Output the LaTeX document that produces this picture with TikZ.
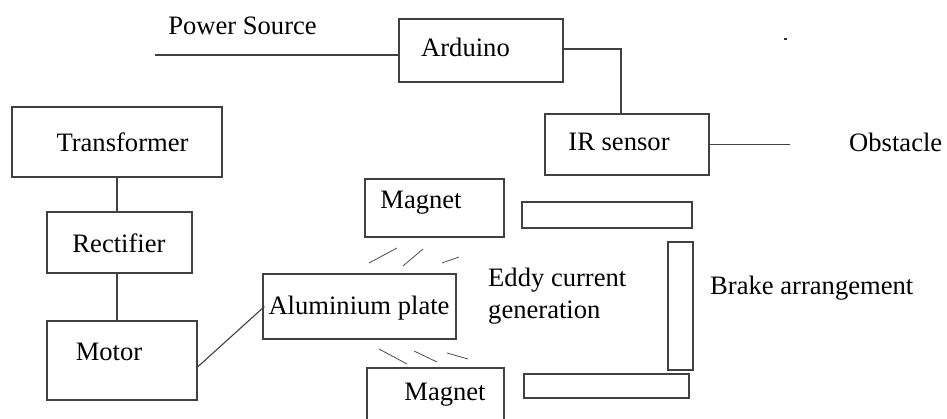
\documentclass[tikz,border=0pt]{standalone}
\usepackage{fontspec}
\setmainfont{Liberation Serif}
\usetikzlibrary{positioning,calc}
\tikzset{blk/.style={rectangle, draw=black!75, line width=1.1pt, inner sep=0pt},
	lbl/.style={inner sep=0pt, font=\fontsize{26.6}{32}\selectfont, align=left},
	wire/.style={draw=black!75, line width=1.1pt},
	flux/.style={draw=black!70, line width=0.8pt}}
\begin{document}
\begin{tikzpicture}[x=1pt,y=-1pt]
	\clip (0,0) rectangle (947,419);
	\useasboundingbox (0,0) rectangle (947,419);
	% control side
	\node[blk, minimum width=164, minimum height=63] (ard) at (481,50.5) {};
	\node[lbl] (ardtxt) at (465.5,47) {Arduino};
	\node[blk, minimum width=164, minimum height=61] (ir) at (627,144.5) {};
	\node[lbl] (irtxt) at (619,142) {IR sensor};
	\node[lbl] (ps) at (242.5,26) {Power Source};
	\node[lbl, anchor=west] (obs) at (849,142) {Obstacle};
	\coordinate (psend) at (155,55);
	\coordinate (obsend) at (790,144.5);
	\draw[wire] (psend) -- ([yshift=-4.5pt]ard.west);
	\draw[wire] ([yshift=1.5pt]ard.east) -| ([xshift=-6pt]ir.north);
	\draw[wire] (ir.east) -- (obsend);
	% drive side
	\node[blk, minimum width=210, minimum height=70] (trf) at (117,142) {};
	\node[lbl] (trftxt) at (122.5,142) {Transformer};
	\node[blk, minimum width=145, minimum height=61] (rect) at (119.5,242.5) {};
	\node[lbl] (recttxt) at (119,243) {Rectifier};
	\node[blk, minimum width=150, minimum height=79] (mot) at (122,360.5) {};
	\node[lbl] (mottxt) at (109,352) {Motor};
	\draw[wire] (trf.south) -- (trf.south |- rect.north);
	\draw[wire] (trf.south |- rect.south) -- (trf.south |- mot.north);
	% brake side
	\node[blk, minimum width=193, minimum height=65] (alu) at (359.5,306.5) {};
	\node[lbl] (alutxt) at (359,308) {Aluminium plate};
	\node[blk, minimum width=139, minimum height=58] (magtop) at (434.5,208) {};
	\node[lbl] (magtoptxt) at (421,203) {Magnet};
	\node[blk, minimum width=137, minimum height=70] (magbot) at (435.5,403) {};
	\node[lbl] (magbottxt) at (445,395) {Magnet};
	\draw[wire] ([yshift=-6.5pt]mot.east) -- ([xshift=2pt]alu.west);
	\draw[flux] (369,263) -- (397,248);
	\draw[flux] (403,266) -- (423,249);
	\draw[flux] (442,263) -- (459,257);
	\draw[flux] (379,349) -- (407,364);
	\draw[flux] (414,351) -- (437,362);
	\draw[flux] (447,353) -- (468,359);
	\node[lbl, anchor=west] (eddy) at (488,296) {Eddy current\\generation};
	\node[blk, minimum width=170, minimum height=26] (bartop) at (607,215) {};
	\node[blk, minimum width=25, minimum height=128] (barside) at (680.5,306) {};
	\node[blk, minimum width=165, minimum height=24] (barbot) at (606.5,386) {};
	\node[lbl, anchor=west] (brake) at (710,288) {Brake arrangement};
	\fill[black!80] (784,38.5) rectangle (786.5,40);
\end{tikzpicture}
\end{document}
